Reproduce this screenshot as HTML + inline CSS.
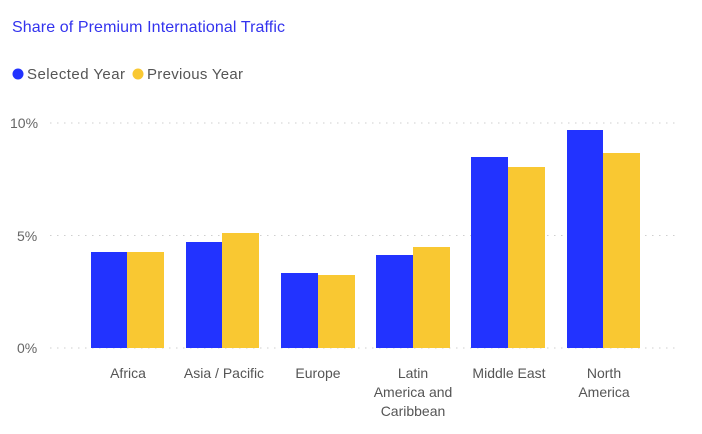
<!DOCTYPE html>
<html><head><style>
body{margin:0;width:702px;height:429px;background:#fff;overflow:hidden;font-family:"Liberation Sans",sans-serif;}
</style></head><body>
<svg width="702" height="429" xmlns="http://www.w3.org/2000/svg" font-family="Liberation Sans, sans-serif">
<text x="12" y="32" font-size="16" textLength="273" fill="#3333ee">Share of Premium International Traffic</text>
<circle cx="18" cy="74" r="5.5" fill="#2233ff"/>
<text x="27" y="79" font-size="15" textLength="98" fill="#555">Selected Year</text>
<circle cx="138" cy="74" r="5.5" fill="#f9c832"/>
<text x="147" y="79" font-size="15" textLength="96" fill="#555">Previous Year</text>
<g stroke="#cfcfcf" stroke-width="1" stroke-dasharray="1.5,5.5">
<line x1="50" y1="123" x2="680" y2="123"/>
<line x1="50" y1="235.5" x2="680" y2="235.5"/>
<line x1="50" y1="348" x2="680" y2="348"/>
</g>
<g font-size="14" fill="#666">
<text x="10" y="128">10%</text>
<text x="17" y="241">5%</text>
<text x="17" y="353">0%</text>
</g>
<g fill="#2233ff">
<rect x="91" y="252" width="36" height="96"/>
<rect x="186" y="242" width="36" height="106"/>
<rect x="281" y="273" width="37" height="75"/>
<rect x="376" y="255" width="37" height="93"/>
<rect x="471" y="157" width="37" height="191"/>
<rect x="567" y="130" width="36" height="218"/>
</g>
<g fill="#f9c832">
<rect x="127" y="252" width="37" height="96"/>
<rect x="222" y="233" width="37" height="115"/>
<rect x="318" y="275" width="37" height="73"/>
<rect x="413" y="247" width="37" height="101"/>
<rect x="508" y="167" width="37" height="181"/>
<rect x="603" y="153" width="37" height="195"/>
</g>
<g font-size="14" fill="#555" text-anchor="middle">
<text x="128" y="378">Africa</text>
<text x="224" y="378">Asia / Pacific</text>
<text x="318" y="378">Europe</text>
<text x="413" y="378">Latin</text>
<text x="413" y="397">America and</text>
<text x="413" y="416">Caribbean</text>
<text x="509" y="378">Middle East</text>
<text x="604" y="378">North</text>
<text x="604" y="397">America</text>
</g>
</svg>
</body></html>
